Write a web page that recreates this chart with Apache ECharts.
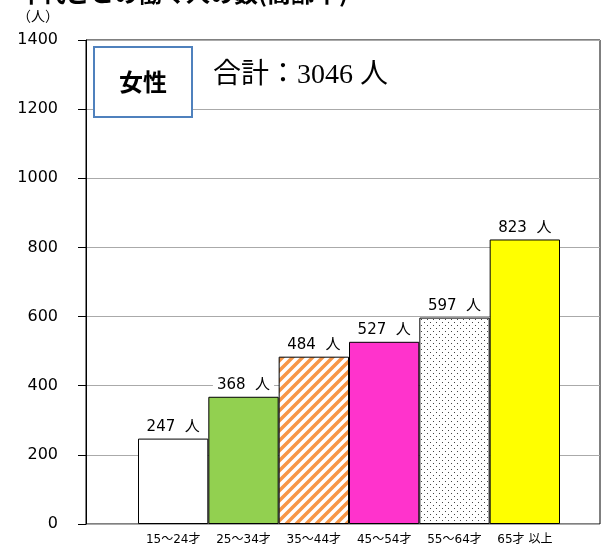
<!DOCTYPE html>
<html style="height: 100%; margin: 0; padding: 0;">
<head>
    <meta charset="utf-8">
    <title>女性 年代別人数</title>
    <script src="https://cdn.jsdelivr.net/npm/echarts@6/dist/echarts.min.js"></script>
    <style>
        body, html {
            height: 100%;
            margin: 0;
            padding: 0;
            background-color: #ffffff;
        }
        #main {
            width: 616px;
            height: 547px;
        }
    </style>
</head>
<body>
<div id="main"></div>
<script type="text/javascript">
    // データ
    var ageGroups = ['15～24才', '25～34才', '35～44才', '45～54才', '55～64才', '65才 以上'];
    var counts = [247, 368, 484, 527, 597, 823];
    var yTicks = { min: 0, max: 1400, interval: 200 };
    var totalText = '合計：3046 人';
    var groupName = '女性';

    var SANS = 'DejaVu Sans, Noto Sans CJK JP, sans-serif';
    var CJK = 'Noto Sans CJK JP, sans-serif';

    // 斜線パターン
    function stripePattern() {
        var c = document.createElement('canvas');
        c.width = 10; c.height = 10;
        var ctx = c.getContext('2d');
        ctx.fillStyle = '#fff';
        ctx.fillRect(0, 0, 10, 10);
        ctx.strokeStyle = '#F79646';
        ctx.lineWidth = 3.5;
        ctx.beginPath();
        ctx.moveTo(-5, 5); ctx.lineTo(5, -5);
        ctx.moveTo(0, 10); ctx.lineTo(10, 0);
        ctx.moveTo(5, 15); ctx.lineTo(15, 5);
        ctx.stroke();
        return c;
    }

    // 点描パターン
    function dotPattern() {
        var c = document.createElement('canvas');
        c.width = 6; c.height = 6;
        var ctx = c.getContext('2d');
        ctx.fillStyle = '#fff';
        ctx.fillRect(0, 0, 6, 6);
        ctx.fillStyle = '#444';
        ctx.fillRect(1, 1, 1, 1);
        ctx.fillRect(4, 4, 1, 1);
        return c;
    }

    var barColors = [
        '#ffffff',
        '#92D050',
        { image: stripePattern(), repeat: 'repeat' },
        '#FF33CC',
        { image: dotPattern(), repeat: 'repeat' },
        '#FFFF00'
    ];

    var myChart = echarts.init(document.getElementById('main'));

    var option = {
        animation: false,
        grid: [
            { left: 86, right: 16, top: 40, bottom: 23, show: true, borderColor: '#000', borderWidth: 1, backgroundColor: 'transparent' },
            { left: 138, right: 56, top: 40, bottom: 23 }
        ],
        xAxis: [
            { type: 'value', gridIndex: 0, show: false, min: 0, max: 1 },
            {
                type: 'category', gridIndex: 1, data: ageGroups,
                axisLine: { show: false }, axisTick: { show: false },
                axisLabel: { fontSize: 12, color: '#000', margin: 10, fontFamily: SANS, interval: 0 }
            }
        ],
        yAxis: [
            {
                type: 'value', gridIndex: 0,
                min: yTicks.min, max: yTicks.max, interval: yTicks.interval,
                axisLine: { show: true, lineStyle: { color: '#000' } },
                axisTick: { show: true, length: 8, lineStyle: { color: '#000' } },
                splitLine: { show: true, lineStyle: { color: '#aaa', width: 1 } },
                axisLabel: { fontSize: 16, color: '#000', margin: 28, fontFamily: SANS, formatter: function (v) { return String(v); } }
            },
            {
                type: 'value', gridIndex: 1, show: false,
                min: yTicks.min, max: yTicks.max, interval: yTicks.interval,
                splitLine: { show: false }
            }
        ],
        series: [{
            type: 'bar',
            xAxisIndex: 1,
            yAxisIndex: 1,
            barCategoryGap: 0,
            data: counts.map(function (v, i) {
                return { value: v, itemStyle: { color: barColors[i] } };
            }),
            itemStyle: { borderColor: '#000', borderWidth: 1 },
            label: {
                show: true,
                position: 'top',
                distance: 3,
                formatter: '{c}  人',
                fontSize: 15,
                color: '#000',
                fontFamily: SANS,
                backgroundColor: '#fff',
                padding: [1, 4]
            }
        }],
        graphic: [
            {
                type: 'text', left: -6, top: -19,
                style: { text: '・年代ごとの働く人の数(高齢率)', fontSize: 24, fontWeight: 'bold', fontFamily: CJK, fill: '#000' }
            },
            {
                type: 'text', left: 17, top: 9,
                style: { text: '（人）', fontSize: 14, fontFamily: CJK, fill: '#000' }
            },
            {
                type: 'rect', shape: { x: 94, y: 47, width: 98, height: 70 },
                style: { fill: '#fff', stroke: '#4F81BD', lineWidth: 2 }, z: 10
            },
            {
                type: 'text', x: 143, y: 82, z: 11,
                style: { text: groupName, fontSize: 24, fontWeight: 'bold', fontFamily: CJK, fill: '#000', align: 'center', verticalAlign: 'middle' }
            },
            {
                type: 'text', x: 213, y: 76, z: 11,
                style: { text: totalText, fontSize: 28, fontFamily: 'Liberation Serif, Noto Sans CJK JP, serif', fill: '#000', verticalAlign: 'middle' }
            }
        ]
    };

    myChart.setOption(option);
</script>
</body>
</html>
